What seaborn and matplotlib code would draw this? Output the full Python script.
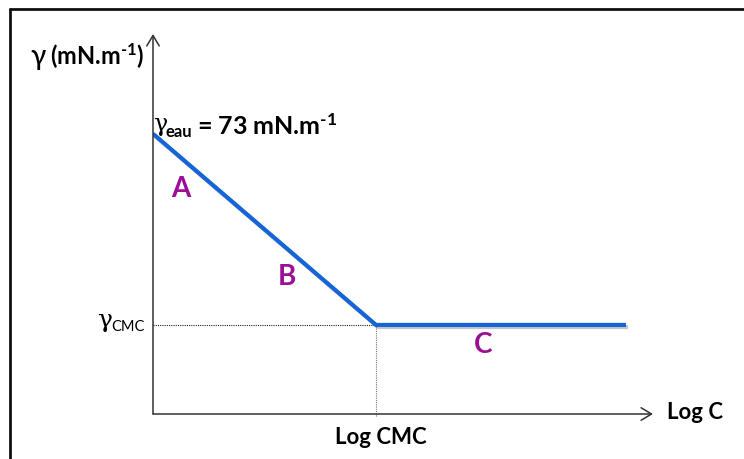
import matplotlib
matplotlib.use("Agg")
import matplotlib.pyplot as plt
import matplotlib.patheffects as pe
from matplotlib.lines import Line2D
import seaborn as sns
import pandas as pd

# ---- data ----
log_c = [0.0, 4.46, 9.46]          # log C (arbitrary units)
gamma = [73.0, 23.2, 23.2]         # surface tension, mN/m
log_cmc = 4.46
gamma_cmc = 23.2
x_max = 10.0
y_max = 99.0
region_labels = ["A", "B", "C"]
region_x = [0.56, 2.68, 6.6]
region_y = [59.0, 36.0, 18.2]

sns.set_theme(style="white")
FAM = ["Lato", "Noto Sans", "DejaVu Sans"]
plt.rcParams["font.family"] = FAM
plt.rcParams["mathtext.fontset"] = "custom"
plt.rcParams["mathtext.rm"] = "Lato:bold"
plt.rcParams["mathtext.bf"] = "Lato:bold"
plt.rcParams["mathtext.it"] = "Lato:bold"

W, H = 744, 460
fig = plt.figure(figsize=(W / 100, H / 100), dpi=100)
fig.patch.set_facecolor("white")

def fx(px):
    return px / W

def fy(py):
    return 1 - py / H

ax = fig.add_axes([fx(153), fy(415), (653 - 153) / W, (415 - 35) / H])
ax.set_xlim(0, x_max)
ax.set_ylim(0, y_max)
ax.axis("off")

df = pd.DataFrame({"logC": log_c, "gamma": gamma})
sns.lineplot(data=df, x="logC", y="gamma", ax=ax, color="#1565D8", lw=3.0,
             sort=False, estimator=None, solid_capstyle="butt",
             path_effects=[pe.SimpleLineShadow(offset=(1.5, -1.5), alpha=0.25),
                           pe.Normal()], zorder=3)

# dotted guide lines
ax.plot([0, log_cmc], [gamma_cmc, gamma_cmc], ls=(0, (1, 1)), color="#222222", lw=0.8, zorder=2)
ax.plot([log_cmc, log_cmc], [-0.5, gamma_cmc], ls=(0, (1, 1)), color="#777777", lw=0.8,
        zorder=2, clip_on=False)

# axes with arrows
arrow = dict(arrowstyle="->,head_length=0.75,head_width=0.45", lw=1.1, color="#333333",
             shrinkA=0, shrinkB=0, mutation_scale=10)
ax.annotate("", xy=(x_max, 0), xytext=(0, 0), arrowprops=arrow, annotation_clip=False)
ax.annotate("", xy=(0, y_max), xytext=(0, 0), arrowprops=arrow, annotation_clip=False)

# region labels
for lab, xx, yy in zip(region_labels, region_x, region_y):
    ax.text(xx, yy, lab, color="#9B0E96", fontsize=20, fontweight="bold",
            ha="center", va="center")

GAM = dict(family=["DejaVu Serif"], color="black")
tk = dict(color="black", fontweight="bold", fontsize=16)
SUP = "$^{\\text{-1}}$"

# y label
fig.text(fx(30), fy(65), "γ", ha="left", va="baseline", fontsize=20,
         color="black", fontweight="medium")
fig.text(fx(144), fy(65), "(mN.m" + SUP + ")", ha="right", va="baseline",
         color="black", fontweight="bold", fontsize=17)

# gamma eau
fig.text(fx(153), fy(131), "γ", ha="left", va="baseline", fontsize=17, **GAM)
fig.text(fx(166), fy(137), "eau", ha="left", va="baseline", color="black",
         fontweight="bold", fontsize=12)
fig.text(fx(197), fy(135), "= 73 mN.m" + SUP, ha="left", va="baseline",
         color="black", fontweight="bold", fontsize=18)

# gamma CMC
fig.text(fx(97), fy(327), "γ", ha="left", va="baseline", fontsize=18, **GAM)
fig.text(fx(145), fy(331), "CMC", ha="right", va="baseline", color="black", fontsize=10.5)

ax.text(log_cmc + 0.1, -5.8, "Log CMC", ha="center", va="center", **tk)
ax.text(x_max + 0.28, 0.6, "Log C", ha="left", va="center", **tk)

# outer frame (left + top)
fig.add_artist(Line2D([fx(10), fx(10)], [fy(10), 0], transform=fig.transFigure,
                      color="#111111", lw=2))
fig.add_artist(Line2D([fx(10), 1], [fy(10), fy(10)], transform=fig.transFigure,
                      color="#111111", lw=2))

fig.savefig("out.png", dpi=100, facecolor="white")
